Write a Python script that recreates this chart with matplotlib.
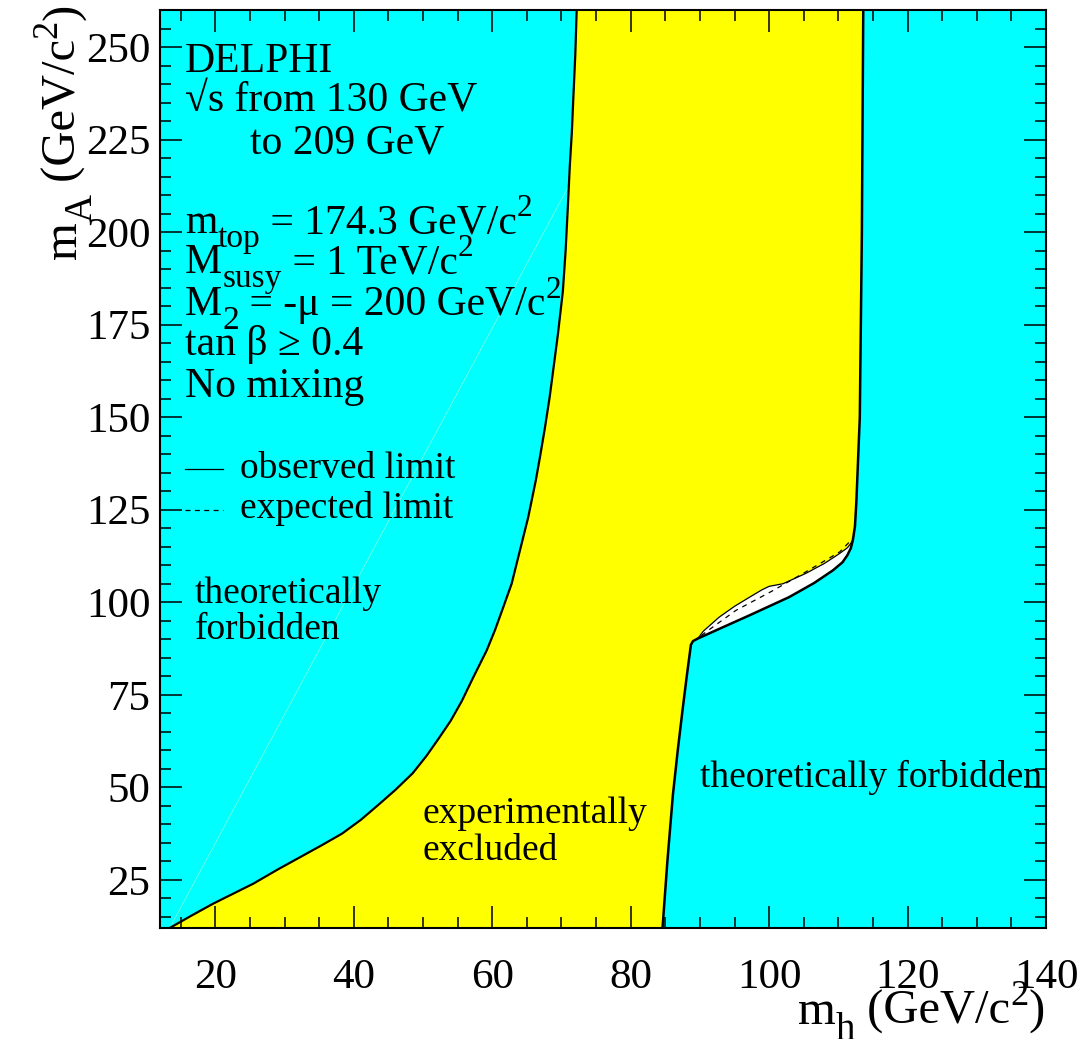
import numpy as np
import matplotlib
matplotlib.use("Agg")
import matplotlib.pyplot as plt
from matplotlib.ticker import MultipleLocator

plt.rcParams['font.family'] = ['Liberation Serif', 'DejaVu Serif']

# ---- data ----
# left theoretical boundary / observed limit (m_h, m_A)
left_x = [13.4, 16.5, 19.7, 22.6, 25.5, 29.0, 32.3, 35.5, 38.3, 41.0, 43.5,
          46.0, 48.5, 50.5, 52.3, 54.0, 55.6, 57.2, 59.2, 60.4, 61.6, 62.8,
          64.0, 65.2, 66.3, 66.9, 67.6, 68.3, 68.9, 69.5, 70.2, 70.6, 70.9,
          71.2, 71.5, 71.7, 72.0, 72.2]
left_y = [12.0, 15.3, 18.6, 21.3, 24.0, 27.8, 31.2, 34.5, 37.5, 41.2, 45.2,
          49.3, 53.8, 58.5, 63.3, 68.0, 73.3, 79.5, 87.0, 92.5, 98.7, 105.0,
          114.0, 123.0, 133.0, 139.3, 147.0, 155.5, 164.0, 172.6, 184.0, 195.0,
          206.0, 217.7, 227.0, 235.7, 248.0, 260.0]
# right theoretical boundary
right_x = [84.6, 85.3, 86.1, 86.8, 87.5, 88.1, 88.7, 89.0, 89.7, 93.5, 97.2,
           102.9, 106.5, 109.2, 110.6, 111.3, 111.8, 112.1, 112.4, 112.6,
           113.1, 113.4, 113.6]
right_y = [12.0, 30.0, 48.0, 60.0, 71.0, 80.0, 88.5, 89.5, 90.2, 93.4, 96.5,
           101.4, 105.2, 108.6, 110.8, 112.7, 114.6, 116.8, 120.5, 127.0,
           150.0, 200.0, 260.0]
# observed limit (upper edge of the allowed sliver)
obs_x = [89.7, 90.5, 92.8, 95.0, 97.2, 99.0, 100.0, 102.0, 105.3, 108.0,
         110.2, 111.3, 111.8, 112.1]
obs_y = [90.2, 92.2, 96.0, 98.9, 101.4, 103.4, 104.3, 105.0, 107.8, 110.5,
         113.2, 114.7, 115.9, 116.8]
# expected limit
exp_x = [90.2, 90.9, 95.2, 100.5, 105.3, 110.2, 111.6, 112.0]
exp_y = [91.0, 92.0, 97.8, 103.1, 108.2, 113.6, 116.3, 117.0]
# faint line in the left forbidden region
faint_x = [13.4, 71.2]
faint_y = [12.0, 213.0]

xlim = (12, 140)
ylim = (12, 260)

CYAN = '#00FFFF'
YELLOW = '#FFFF00'
W, H = 1083, 1039

fig = plt.figure(figsize=(W / 100, H / 100), dpi=100)
ax = fig.add_axes([160 / W, 1 - 928 / H, 886 / W, 918 / H])
ax.set_facecolor(CYAN)
ax.set_xlim(*xlim)
ax.set_ylim(*ylim)

lx, ly = np.array(left_x), np.array(left_y)
rx, ry = np.array(right_x), np.array(right_y)
ox, oy = np.array(obs_x), np.array(obs_y)

# yellow excluded region
ax.fill(np.concatenate([lx, rx[::-1]]), np.concatenate([ly, ry[::-1]]),
        color=YELLOW, lw=0, zorder=1)
# white (allowed, not excluded) sliver
m = (rx >= ox[0]) & (ry <= oy[-1] + 0.01)
ax.fill(np.concatenate([ox, rx[m][::-1]]), np.concatenate([oy, ry[m][::-1]]),
        color='white', lw=0, zorder=2)

ax.plot(faint_x, faint_y, color='#70ffd8', lw=0.6, zorder=2)
ax.plot(lx, ly, color='black', lw=1.6, zorder=4)
ax.plot(rx, ry, color='black', lw=1.8, zorder=4)
ax.plot(ox, oy, color='black', lw=0.9, zorder=4)
ax.plot(exp_x, exp_y, color='black', lw=0.9, ls=(0, (4, 4)), zorder=4)

# ticks
ax.xaxis.set_major_locator(MultipleLocator(20))
ax.xaxis.set_minor_locator(MultipleLocator(5))
ax.yaxis.set_major_locator(MultipleLocator(25))
ax.yaxis.set_minor_locator(MultipleLocator(5))
ax.tick_params(which='both', direction='in', top=True, right=True, width=1.1)
ax.tick_params(which='major', length=16)
ax.tick_params(which='minor', length=8)
ax.tick_params(axis='x', which='major', labelsize=31, pad=22)
ax.tick_params(axis='y', which='major', labelsize=31, pad=7)
for s in ax.spines.values():
    s.set_linewidth(1.5)

renderer = fig.canvas.get_renderer()


def width_px(s, size):
    t1 = fig.text(0, 0, '|' + s + '|', fontsize=size)
    t2 = fig.text(0, 0, '||', fontsize=size)
    w = t1.get_window_extent(renderer).width - t2.get_window_extent(renderer).width
    t1.remove()
    t2.remove()
    return w


def rich(px, py, runs, size, rotation=0, align='left'):
    """runs: list of (text, scale, baseline shift in em). px, py: pixels from top-left."""
    em = size * 100 / 72.0
    widths = [width_px(s, size * sc) for s, sc, _ in runs]
    total = sum(widths)
    pos = 0.0 if align == 'left' else -total
    for (s, sc, sh), w in zip(runs, widths):
        if rotation == 0:
            x = px + pos
            y = py - sh * em
        else:  # rotated 90 deg, text runs upward
            x = px - sh * em
            y = py - pos
        fig.text(x / W, 1 - y / H, s, fontsize=size * sc, ha='left', va='baseline',
                 rotation=rotation, rotation_mode='anchor', zorder=6)
        pos += w


SUB, SUBSH = 0.8, -0.33
SUP, SUPSH = 0.75, 0.40

# axis labels
rich(1045, 1024, [('m', 1, 0), ('h', SUB, SUBSH), (' (GeV/c', 1, 0), ('2', SUP, SUPSH),
                  (')', 1, 0)], 35, align='right')
rich(76, 4, [('m', 1, 0), ('A', SUB, SUBSH), (' (GeV/c', 1, 0), ('2', SUP, SUPSH),
             (')', 1, 0)], 35, rotation=90, align='right')

# info block
rich(185, 72, [('DELPHI', 1, 0)], 30)
rich(185, 112, [('√s from 130 GeV', 1, 0)], 30)
rich(250, 153, [('to 209 GeV', 1, 0)], 30)
rich(185, 233, [('m', 1, 0), ('top', SUB, SUBSH), (' = 174.3 GeV/c', 1, 0),
                ('2', SUP, SUPSH)], 30)
rich(185, 273, [('M', 1, 0), ('susy', SUB, SUBSH), (' = 1 TeV/c', 1, 0),
                ('2', SUP, SUPSH)], 30)
rich(185, 315, [('M', 1, 0), ('2', SUB, SUBSH), (' = -μ = 200 GeV/c', 1, 0),
                ('2', SUP, SUPSH)], 30)
rich(185, 355, [('tan β ≥ 0.4', 1, 0)], 30)
rich(185, 397, [('No mixing', 1, 0)], 30)

# legend
rich(240, 478, [('observed limit', 1, 0)], 27)
rich(240, 518, [('expected limit', 1, 0)], 27)
ax.plot([(185 - 160) / 886, (223 - 160) / 886], [(928 - 469) / 918] * 2,
        transform=ax.transAxes, color='black', lw=0.9, zorder=6)
ax.plot([(185 - 160) / 886, (223 - 160) / 886], [(928 - 510) / 918] * 2,
        transform=ax.transAxes, color='black', lw=0.9, ls=(0, (4, 3.5)), zorder=6)

# region labels
rich(195, 603, [('theoretically', 1, 0)], 27)
rich(195, 639, [('forbidden', 1, 0)], 27)
rich(423, 823, [('experimentally', 1, 0)], 27)
rich(423, 860, [('excluded', 1, 0)], 27)
rich(700, 787, [('theoretically forbidden', 1, 0)], 27)

fig.savefig('out.png', dpi=100)
